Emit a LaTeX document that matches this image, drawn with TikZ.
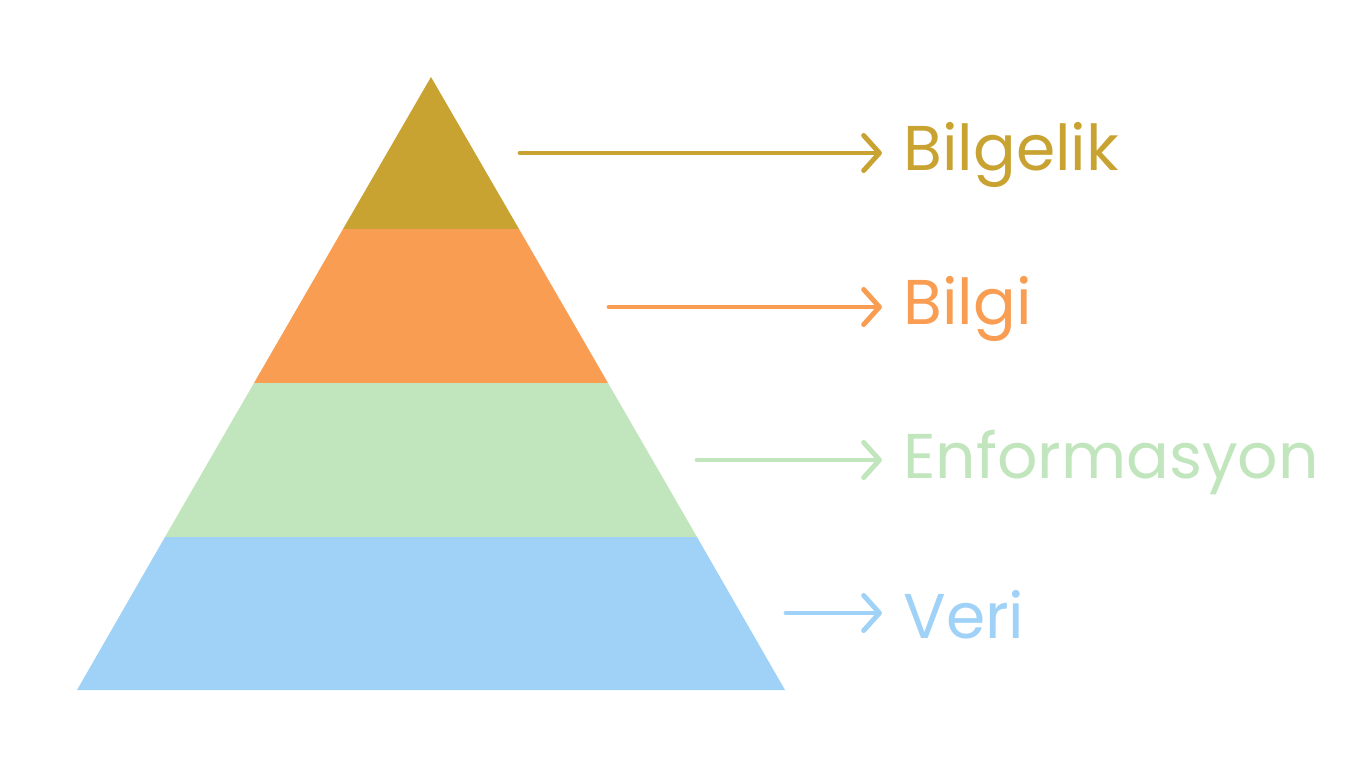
\documentclass[tikz,border=0pt]{standalone}
\usepackage{fontspec}
\setmainfont{Poppins}
\usetikzlibrary{arrows.meta, positioning}
\definecolor{cGold}{HTML}{C9A332}
\definecolor{cOrange}{HTML}{F89D52}
\definecolor{cGreen}{HTML}{C1E5BC}
\definecolor{cBlue}{HTML}{A0D2F8}
\tikzset{
	band/.style={fill=#1, draw=none},
	lbl/.style={anchor=west, inner sep=0pt, text=#1, font=\fontsize{36}{42}\selectfont},
	pointer/.style={draw=#1, line width=2.8pt, line cap=round, -{Straight Barb[length=9pt, width=20pt, line width=2.8pt, round]}},
}
\begin{document}
\begin{tikzpicture}[x=0.02cm, y=-0.02cm]
	\useasboundingbox[fill=white] (0,0) rectangle (1365,768);
	% pyramid bands
	\fill[band=cGold] (431,77) -- (519,229) -- (343,229) -- cycle;
	\fill[band=cOrange] (343,229) -- (519,229) -- (608,383) -- (254,383) -- cycle;
	\fill[band=cGreen] (254,383) -- (608,383) -- (697,537) -- (165,537) -- cycle;
	\fill[band=cBlue] (165,537) -- (697,537) -- (785,690) -- (77,690) -- cycle;
	% labels
	\node[lbl=cGold] (wisdom) at (903,155) {Bilgelik};
	\node[lbl=cOrange] (knowledge) at (903,309) {Bilgi};
	\node[lbl=cGreen] (info) at (903,462) {Enformasyon};
	\node[lbl=cBlue] (data) at (903,615) {Veri};
	% arrow starts
	\coordinate (s1) at (520,153);
	\coordinate (s2) at (609,307);
	\coordinate (s3) at (697,460);
	\coordinate (s4) at (786,613);
	\draw[pointer=cGold, shorten >=12pt] (s1) -- (s1 -| wisdom.west);
	\draw[pointer=cOrange, shorten >=12pt] (s2) -- (s2 -| knowledge.west);
	\draw[pointer=cGreen, shorten >=12pt] (s3) -- (s3 -| info.west);
	\draw[pointer=cBlue, shorten >=12pt] (s4) -- (s4 -| data.west);
\end{tikzpicture}
\end{document}
